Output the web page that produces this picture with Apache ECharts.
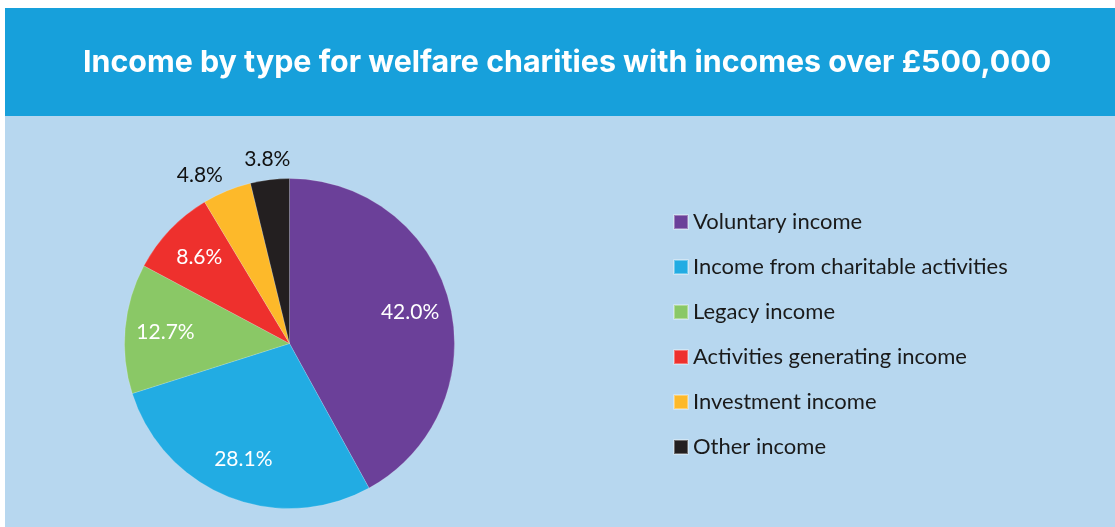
<!DOCTYPE html>
<html>
<head>
<meta charset="utf-8">
<script src="https://cdn.jsdelivr.net/npm/echarts@6/dist/echarts.min.js"></script>
<style>
html,body{margin:0;padding:0;background:#ffffff;}
#chart{width:1115px;height:527px;}
</style>
</head>
<body>
<div id="chart"></div>
<script>
var titleText = 'Income by type for welfare charities with incomes over £500,000';
var categories = ['Voluntary income', 'Income from charitable activities', 'Legacy income', 'Activities generating income', 'Investment income', 'Other income'];
var shares = [42.0, 28.1, 12.7, 8.6, 4.8, 3.8];
var colors = ['#6B4099', '#22ACE3', '#8AC866', '#EE302D', '#FDB92A', '#231F20'];
var labelInside = [true, true, true, true, false, false];

var chart = echarts.init(document.getElementById('chart'), null, {renderer: 'canvas'});
var center = [289.5, 343.5];
var labelFont = 'Lato, "Open Sans", sans-serif';

function fmt(v) { return v.toFixed(1) + '%'; }

var mainData = categories.map(function (c, i) {
  return { name: c, value: shares[i], itemStyle: { color: colors[i] } };
});
var innerLabelData = categories.map(function (c, i) {
  return {
    name: 'in-' + c, value: shares[i],
    label: { show: labelInside[i] }
  };
});
var outerLabelData = categories.map(function (c, i) {
  var item = { name: 'out-' + c, value: shares[i], label: { show: !labelInside[i] } };
  if (i === 4) { item.label.offset = [-19, 4]; }
  return item;
});

chart.setOption({
  animation: false,
  graphic: [
    { type: 'rect', shape: { x: 5, y: 8, width: 1110, height: 108 }, style: { fill: '#17A0DB' }, z: -10 },
    { type: 'rect', shape: { x: 5, y: 116, width: 1110, height: 411 }, style: { fill: '#B7D7EF' }, z: -10 }
  ],
  title: {
    text: titleText,
    left: 83,
    top: 48,
    padding: 0,
    textStyle: {
      color: '#ffffff',
      fontFamily: 'Inter, "Open Sans", sans-serif',
      fontWeight: 700,
      fontSize: 30.4
    }
  },
  legend: {
    orient: 'vertical',
    left: 668,
    top: 206,
    icon: 'rect',
    itemWidth: 14,
    itemHeight: 14,
    itemGap: 23,
    itemTextGap: 6,
    data: categories,
    selectedMode: false,
    textStyle: {
      color: '#1a1a1a',
      fontFamily: labelFont,
      fontSize: 22,
      lineHeight: 20
    }
  },
  series: [
    {
      type: 'pie',
      center: center,
      radius: [0, 165],
      startAngle: 90,
      clockwise: true,
      data: mainData,
      label: { show: false },
      labelLine: { show: false },
      itemStyle: { borderColor: 'rgba(255,255,255,0.35)', borderWidth: 0.5 },
      emphasis: { disabled: true }
    },
    {
      type: 'pie',
      center: center,
      radius: [78, 165],
      startAngle: 90,
      clockwise: true,
      silent: true,
      data: innerLabelData,
      itemStyle: { color: 'rgba(0,0,0,0)' },
      label: {
        position: 'inside',
        formatter: function (p) { return fmt(p.value); },
        color: '#ffffff',
        fontFamily: labelFont,
        fontSize: 21
      },
      labelLine: { show: false },
      emphasis: { disabled: true }
    },
    {
      type: 'pie',
      center: center,
      radius: [170, 196],
      startAngle: 90,
      clockwise: true,
      silent: true,
      data: outerLabelData,
      itemStyle: { color: 'rgba(0,0,0,0)' },
      label: {
        position: 'inside',
        formatter: function (p) { return fmt(p.value); },
        color: '#111111',
        fontFamily: labelFont,
        fontSize: 21
      },
      labelLine: { show: false },
      emphasis: { disabled: true }
    }
  ]
});
</script>
</body>
</html>
